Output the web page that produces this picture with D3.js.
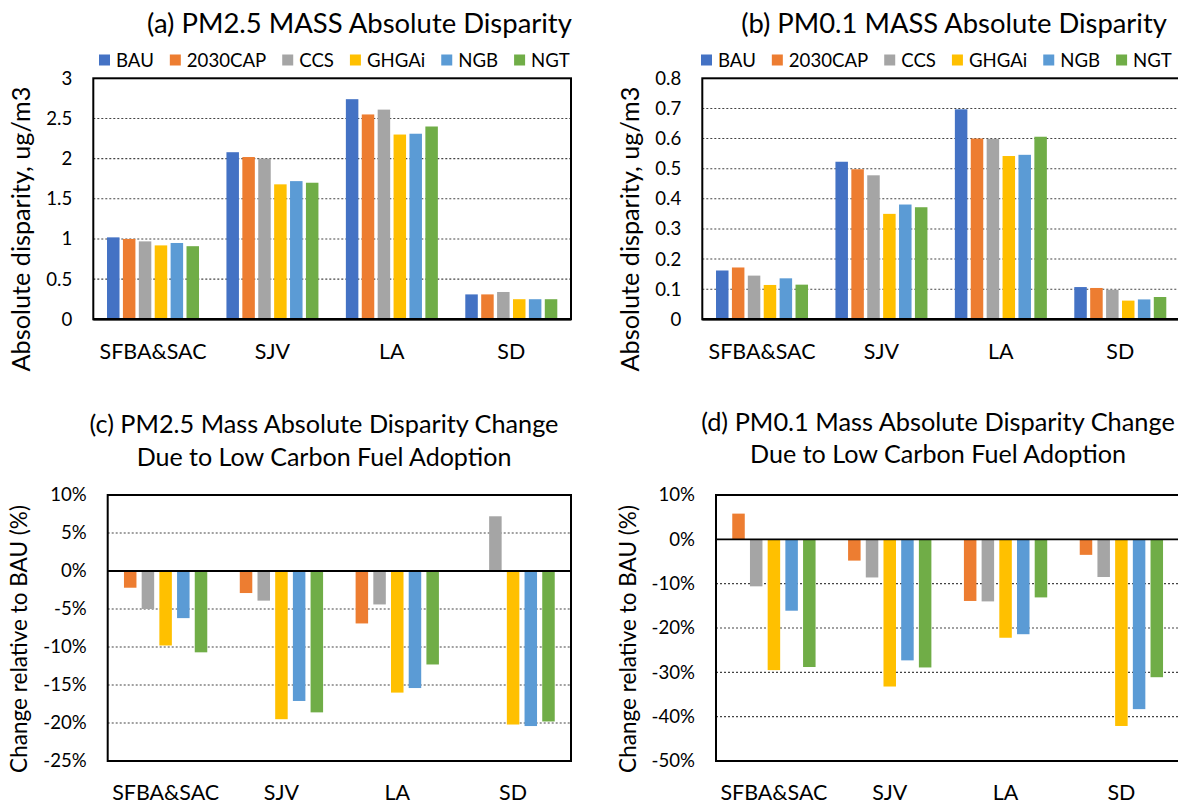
<!DOCTYPE html>
<html>
<head>
<meta charset="utf-8">
<script src="https://cdn.jsdelivr.net/npm/d3@7"></script>
<style>
  html, body { margin: 0; padding: 0; background: #fff; }
  svg { display: block; }
  text { font-family: Lato, "Open Sans", sans-serif; fill: #000; }
</style>
</head>
<body>
<svg id="chart" width="1178" height="806"></svg>
<script>
// ---- categories and scenarios ----
const regions = ["SFBA&SAC", "SJV", "LA", "SD"];
const scenarios = ["BAU", "2030CAP", "CCS", "GHGAi", "NGB", "NGT"];
const changeScenarios = ["2030CAP", "CCS", "GHGAi", "NGB", "NGT"];
const scenarioColors = ["#4472C4", "#ED7D31", "#A5A5A5", "#FFC000", "#5B9BD5", "#70AD47"];

// ---- (a) PM2.5 absolute disparity, ug/m3 (region order) ----
const pm25BAU     = [1.02, 2.08, 2.74, 0.31];
const pm25CAP2030 = [1.00, 2.02, 2.55, 0.31];
const pm25CCS     = [0.97, 2.00, 2.61, 0.34];
const pm25GHGAi   = [0.92, 1.68, 2.30, 0.25];
const pm25NGB     = [0.95, 1.72, 2.31, 0.25];
const pm25NGT     = [0.91, 1.70, 2.40, 0.25];

// ---- (b) PM0.1 absolute disparity, ug/m3 ----
const pm01BAU     = [0.162, 0.523, 0.697, 0.107];
const pm01CAP2030 = [0.172, 0.498, 0.600, 0.104];
const pm01CCS     = [0.145, 0.478, 0.599, 0.098];
const pm01GHGAi   = [0.114, 0.350, 0.542, 0.062];
const pm01NGB     = [0.136, 0.381, 0.546, 0.066];
const pm01NGT     = [0.115, 0.372, 0.606, 0.074];

// ---- (c) PM2.5 change relative to BAU, % ----
const pm25ChgCAP2030 = [-2.2, -2.9, -6.9, 0.0];
const pm25ChgCCS     = [-5.0, -3.9, -4.4, 7.2];
const pm25ChgGHGAi   = [-9.8, -19.5, -16.0, -20.2];
const pm25ChgNGB     = [-6.2, -17.1, -15.4, -20.4];
const pm25ChgNGT     = [-10.7, -18.6, -12.3, -19.8];

// ---- (d) PM0.1 change relative to BAU, % ----
const pm01ChgCAP2030 = [5.8, -4.8, -13.9, -3.5];
const pm01ChgCCS     = [-10.6, -8.6, -14.0, -8.5];
const pm01ChgGHGAi   = [-29.5, -33.2, -22.2, -42.1];
const pm01ChgNGB     = [-16.1, -27.3, -21.4, -38.3];
const pm01ChgNGT     = [-28.8, -28.9, -13.1, -31.1];

// ---- axis ticks ----
const ticksA = [0, 0.5, 1, 1.5, 2, 2.5, 3];
const ticksB = [0, 0.1, 0.2, 0.3, 0.4, 0.5, 0.6, 0.7, 0.8];
const ticksC = [-25, -20, -15, -10, -5, 0, 5, 10];
const ticksD = [-50, -40, -30, -20, -10, 0, 10];

const svg = d3.select("#chart");
svg.append("rect").attr("width", 1178).attr("height", 806).attr("fill", "#fff");

const colorOf = d3.scaleOrdinal().domain(scenarios).range(scenarioColors);

// font size that gives a string the wanted rendered width
function fitSize(str, width) {
  const t = svg.append("text").attr("font-size", 100).text(str);
  const w = t.node().getComputedTextLength();
  t.remove();
  return 100 * width / w;
}

const tickSize = fitSize("10%", 36.5);
const catSize = fitSize("SFBA&SAC", 107);

function makeSeries(names, arrays) {
  return names.map((name, i) => ({ name, values: arrays[i] }));
}

function drawPanel(cfg) {
  const g = svg.append("g");
  const x = d3.scaleBand().domain(regions).range([cfg.left, cfg.right]);
  const y = d3.scaleLinear().domain(cfg.domain).range([cfg.bottom, cfg.top]);
  const n = cfg.series.length;
  const pad = 1 - cfg.barW / cfg.step;
  const xs = d3.scaleBand()
    .domain(cfg.series.map(s => s.name))
    .range([-n * cfg.step / 2, n * cfg.step / 2])
    .paddingInner(pad).paddingOuter(pad / 2);

  // dotted gridlines
  g.append("g").selectAll("line")
    .data(cfg.ticks.filter(t => t !== 0 && t !== cfg.domain[0] && t !== cfg.domain[1]))
    .join("line")
    .attr("x1", cfg.left).attr("x2", cfg.right)
    .attr("y1", d => y(d)).attr("y2", d => y(d))
    .attr("stroke", "#444").attr("stroke-width", 1.1)
    .attr("stroke-dasharray", "2,2");

  // bars
  cfg.series.forEach(s => {
    g.append("g").attr("fill", colorOf(s.name))
      .selectAll("rect")
      .data(s.values.map((v, i) => ({ region: regions[i], v })))
      .join("rect")
      .attr("x", d => x(d.region) + x.bandwidth() / 2 + xs(s.name))
      .attr("width", xs.bandwidth())
      .attr("y", d => y(Math.max(0, d.v)))
      .attr("height", d => Math.abs(y(d.v) - y(0)));
  });

  // zero line for the change panels
  if (cfg.domain[0] < 0) {
    g.append("line")
      .attr("x1", cfg.left).attr("x2", cfg.right)
      .attr("y1", y(0)).attr("y2", y(0))
      .attr("stroke", "#000").attr("stroke-width", 1.8);
  }

  // plot frame
  g.append("rect")
    .attr("x", cfg.left).attr("y", cfg.top)
    .attr("width", cfg.right - cfg.left).attr("height", cfg.bottom - cfg.top)
    .attr("fill", "none").attr("stroke", "#000").attr("stroke-width", 2);
  if (cfg.domain[0] === 0) {
    g.append("line")
      .attr("x1", cfg.left).attr("x2", cfg.right)
      .attr("y1", y(0)).attr("y2", y(0))
      .attr("stroke", "#000").attr("stroke-width", 2.6);
  }

  // y axis labels
  const yAxis = d3.axisLeft(y).tickValues(cfg.ticks).tickSize(0).tickPadding(21).tickFormat(cfg.fmt);
  const ya = g.append("g").attr("transform", `translate(${cfg.left},0)`).call(yAxis);
  ya.select(".domain").remove();
  ya.selectAll("text").attr("font-size", tickSize).attr("fill", "#000")
    .style("font-family", "Lato, 'Open Sans', sans-serif");

  // category labels
  g.append("g").selectAll("text")
    .data(regions).join("text")
    .attr("x", d => x(d) + x.bandwidth() / 2)
    .attr("y", cfg.catY)
    .attr("text-anchor", "middle")
    .attr("font-size", catSize)
    .text(d => d);

  // y axis title
  const ySize = fitSize(cfg.yTitle, cfg.yTitleLen);
  g.append("text")
    .attr("transform", `translate(${cfg.yTitleX},${cfg.yTitleY}) rotate(-90)`)
    .attr("text-anchor", "middle")
    .attr("dy", "0.3em")
    .attr("font-size", ySize)
    .text(cfg.yTitle);

  // chart title (one or two lines)
  cfg.title.forEach((line, i) => {
    g.append("text")
      .attr("x", cfg.titleX)
      .attr("y", cfg.titleY + i * cfg.titleLead)
      .attr("text-anchor", "middle")
      .attr("font-size", fitSize(line, cfg.titleLen[i]))
      .text(line);
  });

  // legend
  if (cfg.legendX !== undefined) {
    const sq = 11, gapIn = 6, gapOut = 16;
    const measure = svg.append("text").attr("font-size", 100);
    let total = 0;
    scenarios.forEach(s => { measure.text(s); total += measure.node().getComputedTextLength(); });
    measure.remove();
    const lSize = 100 * 289 / total;
    const lg = g.append("g");
    let cx = cfg.legendX;
    scenarios.forEach(s => {
      lg.append("rect").attr("x", cx).attr("y", cfg.legendY - sq / 2)
        .attr("width", sq).attr("height", sq).attr("fill", colorOf(s));
      const t = lg.append("text").attr("x", cx + sq + gapIn).attr("y", cfg.legendY)
        .attr("dy", "0.36em").attr("font-size", lSize).text(s);
      cx += sq + gapIn + t.node().getComputedTextLength() + gapOut;
    });
  }
}

const fmtNum = d => String(+d.toFixed(2));
const fmtPct = d => d + "%";

drawPanel({
  left: 93.3, right: 571, top: 78.3, bottom: 319.3,
  domain: [0, 3], ticks: ticksA, fmt: fmtNum,
  series: makeSeries(scenarios, [pm25BAU, pm25CAP2030, pm25CCS, pm25GHGAi, pm25NGB, pm25NGT]),
  step: 15.9, barW: 12.5, catY: 359,
  yTitle: "Absolute disparity, ug/m3", yTitleX: 22, yTitleY: 229, yTitleLen: 285,
  title: ["(a) PM2.5 MASS Absolute Disparity"], titleX: 359.5, titleY: 33, titleLead: 0, titleLen: [425],
  legendX: 99, legendY: 60
});

drawPanel({
  left: 702.3, right: 1180, top: 78.3, bottom: 319.3,
  domain: [0, 0.8], ticks: ticksB, fmt: fmtNum,
  series: makeSeries(scenarios, [pm01BAU, pm01CAP2030, pm01CCS, pm01GHGAi, pm01NGB, pm01NGT]),
  step: 15.9, barW: 12.5, catY: 359,
  yTitle: "Absolute disparity, ug/m3", yTitleX: 631, yTitleY: 229, yTitleLen: 285,
  title: ["(b) PM0.1 MASS Absolute Disparity"], titleX: 954, titleY: 33, titleLead: 0, titleLen: [426],
  legendX: 701, legendY: 60
});

drawPanel({
  left: 107.7, right: 571, top: 495, bottom: 761,
  domain: [-25, 10], ticks: ticksC, fmt: fmtPct,
  series: makeSeries(changeScenarios, [pm25ChgCAP2030, pm25ChgCCS, pm25ChgGHGAi, pm25ChgNGB, pm25ChgNGT]),
  step: 17.7, barW: 12.5, catY: 800,
  yTitle: "Change relative to BAU (%)", yTitleX: 20, yTitleY: 639, yTitleLen: 268,
  title: ["(c) PM2.5 Mass Absolute Disparity Change", "Due to Low Carbon Fuel Adoption"],
  titleX: 324, titleY: 433, titleLead: 33, titleLen: [469, 375]
});

drawPanel({
  left: 716, right: 1179.3, top: 495, bottom: 761,
  domain: [-50, 10], ticks: ticksD, fmt: fmtPct,
  series: makeSeries(changeScenarios, [pm01ChgCAP2030, pm01ChgCCS, pm01ChgGHGAi, pm01ChgNGB, pm01ChgNGT]),
  step: 17.7, barW: 12.5, catY: 800,
  yTitle: "Change relative to BAU (%)", yTitleX: 629.6, yTitleY: 639, yTitleLen: 268,
  title: ["(d) PM0.1 Mass Absolute Disparity Change", "Due to Low Carbon Fuel Adoption"],
  titleX: 938, titleY: 431, titleLead: 32, titleLen: [474, 376]
});
</script>
</body>
</html>
